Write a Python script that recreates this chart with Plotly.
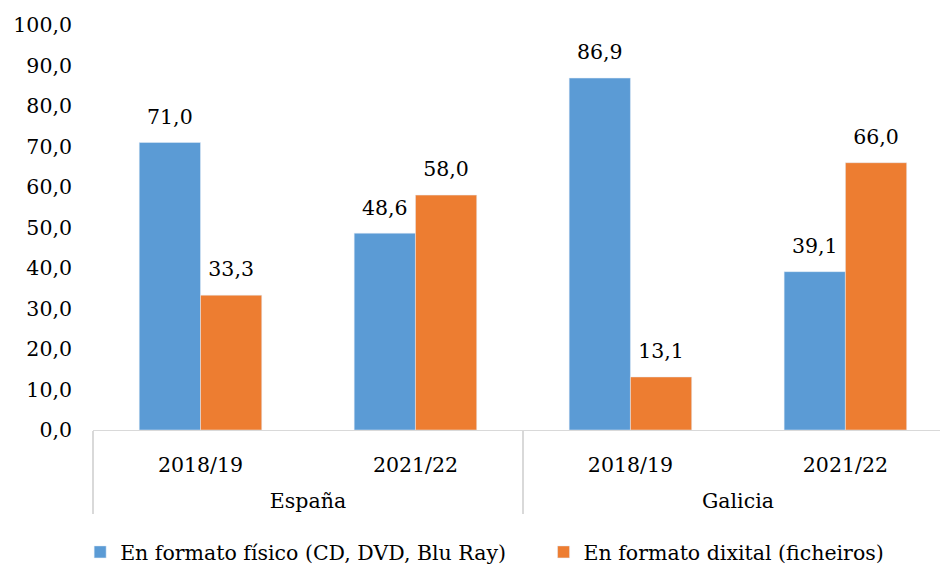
import plotly.graph_objects as go

regions = ["España", "España", "Galicia", "Galicia"]
years = ["2018/19", "2021/22", "2018/19", "2021/22"]
fisico = [71.0, 48.6, 86.9, 39.1]
dixital = [33.3, 58.0, 13.1, 66.0]
series_names = ["En formato físico (CD, DVD, Blu Ray)", "En formato dixital (ficheiros)"]

FONT = "DejaVu Serif"
FS = 20.5

# liña baleira despois do ano para baixar o nivel "España / Galicia"
year_labels = [y + "<br> " for y in years]

# etiqueta con unha liña baleira pequena para separala da barra
LABEL = "<span style='font-size:20.5px'>%{y:.1f}</span><br> "

fig = go.Figure()
fig.add_trace(go.Bar(x=[regions, year_labels], y=fisico, name=series_names[0] + "\u00a0" * 5,
                     marker_color="#5B9BD5", texttemplate=LABEL, textposition="outside",
                     textfont=dict(size=10.5, color="black"), cliponaxis=False))
fig.add_trace(go.Bar(x=[regions, year_labels], y=dixital, name=series_names[1],
                     marker_color="#ED7D31", texttemplate=LABEL, textposition="outside",
                     textfont=dict(size=10.5, color="black"), cliponaxis=False))

fig.update_layout(
    width=943, height=568,
    barmode="group", bargap=0.43, bargroupgap=0,
    separators=",.",
    font=dict(family=FONT, size=FS, color="black"),
    plot_bgcolor="white", paper_bgcolor="white",
    margin=dict(l=93, r=3, t=25, b=138),
    legend=dict(orientation="h", xref="container", x=0.085, xanchor="left",
                yref="container", y=0.028, yanchor="middle", font=dict(size=FS)),
    xaxis=dict(type="multicategory", range=[-0.5, 3.44], showline=True, linecolor="#D9D9D9",
               showdividers=True, dividercolor="#D9D9D9", dividerwidth=1.5,
               ticks="", ticklabelstandoff=16, tickfont=dict(size=FS)),
    yaxis=dict(range=[0, 100], dtick=10, tickformat=".1f", showgrid=False, zeroline=False,
               showline=False, ticklabelstandoff=20, tickfont=dict(size=FS)),
)

fig.write_html("out.html", config={"displayModeBar": False},
               post_script="document.body.style.margin='0';")
